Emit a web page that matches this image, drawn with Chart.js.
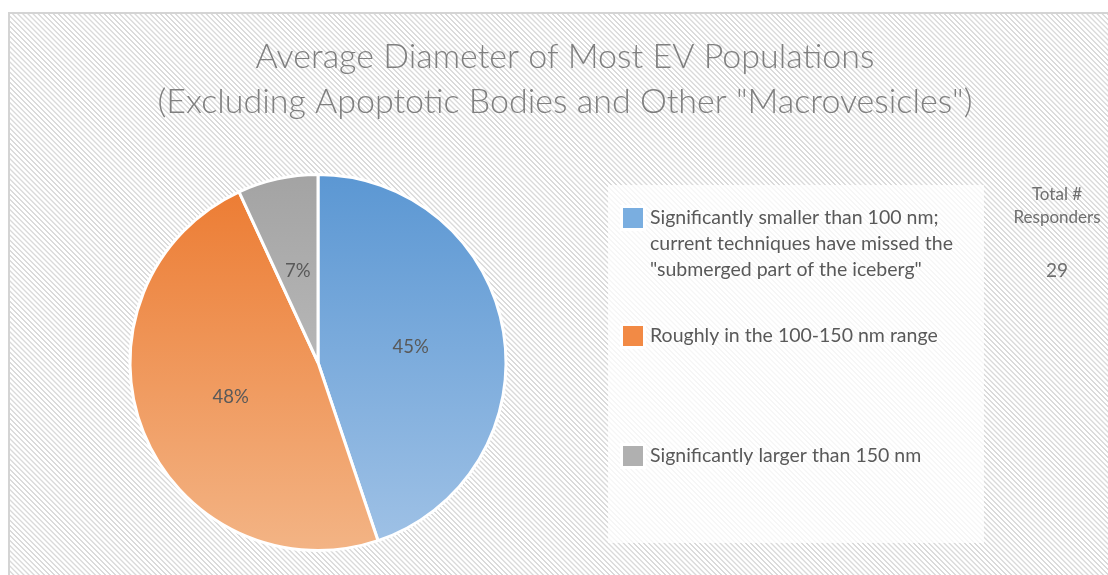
<!DOCTYPE html>
<html>
<head>
<meta charset="utf-8">
<script src="https://cdn.jsdelivr.net/npm/chart.js@4.4.1/dist/chart.umd.min.js"></script>
<style>
  html, body { margin: 0; padding: 0; background: #ffffff; }
  #wrap {
    position: absolute; left: 0; top: 0; width: 1108px; height: 575px; background: #fff;
  }
  #frame {
    position: absolute; left: 8px; top: 12px; width: 1106px; height: 570px;
    box-sizing: border-box; border: 2px solid #d4d4d4;
    background: repeating-linear-gradient(45deg, #ffffff 0px, #ffffff 1.6px, #dadada 2.2px, #dadada 3.0px, #ffffff 3.6px);
  }
  #c { position: absolute; left: 0; top: 0; }
</style>
</head>
<body>
<div id="wrap">
  <div id="frame"></div>
  <canvas id="c" width="1108" height="575"></canvas>
</div>
<script>
const titleLines = ['Average Diameter of Most EV Populations', '(Excluding Apoptotic Bodies and Other "Macrovesicles")'];
const categories = [
  ['Significantly smaller than 100 nm;', 'current techniques have missed the', '"submerged part of the iceberg"'],
  ['Roughly in the 100-150 nm range'],
  ['Significantly larger than 150 nm']
];
const responderCounts = [13, 14, 2];
const totalLabel = ['Total #', 'Responders'];
const totalResponders = 29;
const topColors = ['#5b97d3', '#ec7a30', '#a3a3a3'];
const bottomColors = ['#a0c2e6', '#f3b485', '#cbcbcb'];
const swatchColors = ['#7aaee0', '#f28a45', '#b0b0b0'];

const FONT = 'Lato, "Open Sans", sans-serif';
const TXT = '#595959';

function sliceFill(ctx) {
  const chart = ctx.chart;
  const i = ctx.dataIndex;
  const a = chart.chartArea;
  if (!a) return topColors[i];
  const g = chart.ctx.createLinearGradient(0, a.top, 0, a.bottom);
  g.addColorStop(0, topColors[i]);
  g.addColorStop(1, bottomColors[i]);
  return g;
}

const decorPlugin = {
  id: 'decor',
  beforeDraw(chart) {
    const ctx = chart.ctx;
    ctx.save();
    ctx.fillStyle = 'rgba(255,255,255,0.76)';
    ctx.fillRect(608, 185, 376, 358);
    ctx.restore();
  },
  afterDraw(chart) {
    const ctx = chart.ctx;
    ctx.save();
    // title
    ctx.fillStyle = '#7f7f7f';
    ctx.textAlign = 'center';
    ctx.textBaseline = 'middle';
    ctx.font = '300 34px ' + FONT;
    ctx.fillText(titleLines[0], 565, 57);
    ctx.fillText(titleLines[1], 565, 102);

    // data labels
    const total = responderCounts.reduce((s, v) => s + v, 0);
    const meta = chart.getDatasetMeta(0);
    ctx.font = '18.5px ' + FONT;
    ctx.fillStyle = TXT;
    meta.data.forEach((arc, i) => {
      const p = arc.getCenterPoint();
      const pct = Math.round(responderCounts[i] / total * 100) + '%';
      ctx.fillText(pct, p.x, p.y);
    });

    // legend
    const rowsY = [218, 336, 456];
    const lineH = 26;
    ctx.textAlign = 'left';
    ctx.font = '19.5px ' + FONT;
    categories.forEach((lines, i) => {
      const y0 = rowsY[i];
      ctx.fillStyle = '#ffffff';
      ctx.fillRect(620, y0 - 13, 26, 26);
      ctx.fillStyle = swatchColors[i];
      ctx.fillRect(623, y0 - 10, 20, 20);
      ctx.fillStyle = TXT;
      lines.forEach((t, k) => ctx.fillText(t, 650, y0 + k * lineH));
    });

    // total responders
    ctx.textAlign = 'center';
    ctx.font = '17px ' + FONT;
    ctx.fillStyle = '#6f6f6f';
    ctx.fillText(totalLabel[0], 1057, 195);
    ctx.fillText(totalLabel[1], 1057, 218);
    ctx.font = '19px ' + FONT;
    ctx.fillText(String(totalResponders), 1057, 271);
    ctx.restore();
  }
};

new Chart(document.getElementById('c'), {
  type: 'pie',
  data: {
    labels: categories.map(l => l.join(' ')),
    datasets: [{
      data: responderCounts,
      backgroundColor: sliceFill,
      borderColor: '#ffffff',
      borderWidth: 3
    }]
  },
  options: {
    responsive: false,
    animation: false,
    rotation: 0,
    layout: { padding: { left: 128, top: 173, right: 600, bottom: 23 } },
    plugins: {
      legend: { display: false },
      title: { display: false },
      tooltip: { enabled: false }
    }
  },
  plugins: [decorPlugin]
});
</script>
</body>
</html>
